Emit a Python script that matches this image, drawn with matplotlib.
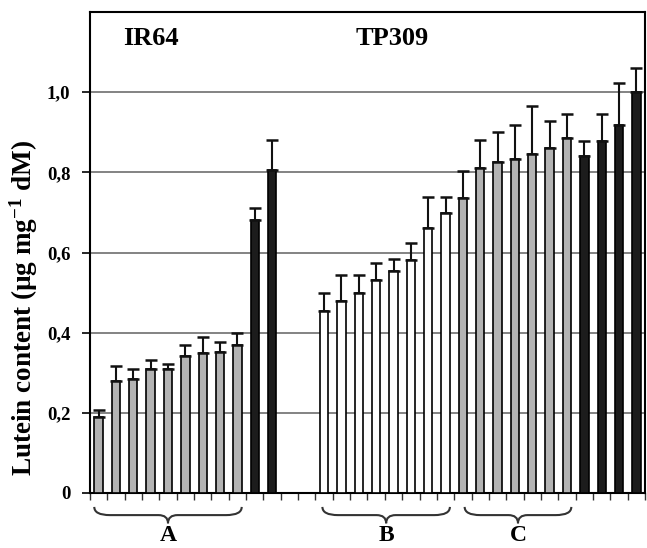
import numpy as np
import matplotlib
matplotlib.use("Agg")
import matplotlib.pyplot as plt
from matplotlib.path import Path
from matplotlib.patches import PathPatch
import matplotlib.transforms as mtransforms

plt.rcParams['font.family'] = ['Liberation Serif', 'DejaVu Serif']
plt.rcParams['font.weight'] = 'bold'
plt.rcParams['mathtext.fontset'] = 'custom'
plt.rcParams['mathtext.rm'] = 'Liberation Serif:bold'
plt.rcParams['mathtext.bf'] = 'Liberation Serif:bold'
plt.rcParams['mathtext.it'] = 'Liberation Serif:bold'

# ---- data ----
cultivars = ["IR64", "TP309"]
group_labels = ["A", "B", "C"]

ir64_gray = [0.190, 0.279, 0.285, 0.309, 0.309, 0.342, 0.349, 0.352, 0.369]
ir64_gray_err = [0.016, 0.039, 0.024, 0.024, 0.014, 0.027, 0.040, 0.024, 0.031]
ir64_black = [0.681, 0.805]
ir64_black_err = [0.030, 0.076]

tp309_white = [0.455, 0.479, 0.498, 0.531, 0.553, 0.581, 0.660, 0.699]
tp309_white_err = [0.044, 0.064, 0.047, 0.044, 0.032, 0.043, 0.079, 0.040]
tp309_gray = [0.735, 0.810, 0.827, 0.834, 0.846, 0.861, 0.886]
tp309_gray_err = [0.068, 0.071, 0.074, 0.083, 0.120, 0.068, 0.059]
tp309_black = [0.842, 0.878, 0.918, 1.001]
tp309_black_err = [0.036, 0.067, 0.106, 0.059]

yticks = [0, 0.2, 0.4, 0.6, 0.8, 1.0]
ytick_labels = ["0", "0,2", "0,4", "0,6", "0,8", "1,0"]

GRAY = "#b3b3b3"
BLACK = "#1c1c1c"
WHITE = "#ffffff"

series = [
    (ir64_gray, ir64_gray_err, GRAY),
    (ir64_black, ir64_black_err, BLACK),
    (tp309_white, tp309_white_err, WHITE),
    (tp309_gray, tp309_gray_err, GRAY),
    (tp309_black, tp309_black_err, BLACK),
]

gap = 2  # empty slots between cultivars
fig = plt.figure(figsize=(6.47, 5.48), dpi=100)
ax = fig.add_axes([0.139, 0.1004, 0.858, 0.8776])

pos = 0
positions_all = []
for i, (vals, errs, col) in enumerate(series):
    if i == 2:
        pos += gap
    x = np.arange(pos, pos + len(vals))
    positions_all.append(x)
    ax.bar(x, vals, width=0.48, color=col, edgecolor="black", linewidth=1.2, zorder=3)
    ax.errorbar(x, vals, yerr=[np.zeros(len(errs)), errs], fmt="none",
                ecolor="#111111", elinewidth=1.5, capsize=4, capthick=1.8, zorder=4)
    pos += len(vals)

n_slots = pos
ax.set_xlim(-0.5, n_slots - 0.5)
ax.set_ylim(0, 1.2)
ax.set_yticks(yticks)
ax.set_yticklabels(ytick_labels, fontsize=13.5, fontweight='bold')
ax.set_xticks(np.arange(-0.5, n_slots, 1.0))
ax.set_xticklabels([])
ax.tick_params(axis='x', direction='out', length=5, width=1.0, color="#333333")
ax.tick_params(axis='y', direction='out', length=6, width=1.2, pad=8)
for s in ax.spines.values():
    s.set_linewidth(1.5)
ax.yaxis.grid(True, color="#7a7a7a", linewidth=1.3, zorder=0)
ax.set_axisbelow(True)

ax.set_ylabel("Lutein content (µg mg$^{-1}$ dM)", fontsize=19.5,
              fontweight='bold')
ax.yaxis.set_label_coords(-0.09, 0.385)

# cultivar titles
ax.text(3.0, 1.135, cultivars[0], fontsize=19, fontweight='bold', ha='center', va='center')
ax.text(16.9, 1.135, cultivars[1], fontsize=19, fontweight='bold', ha='center', va='center')

# braces
trans = mtransforms.blended_transform_factory(ax.transData, ax.transAxes)

def brace(x0, x1, label):
    y0, y1, y2 = -0.029, -0.046, -0.063
    m = (x0 + x1) / 2
    r = 0.9
    t = 0.55
    verts = [(x0, y0), (x0, y1), (x0 + r, y1),
             (m - t, y1), (m, y1), (m, y2),
             (m, y1), (m + t, y1),
             (x1 - r, y1), (x1, y1), (x1, y0)]
    codes = [Path.MOVETO, Path.CURVE3, Path.CURVE3,
             Path.LINETO, Path.CURVE3, Path.CURVE3,
             Path.CURVE3, Path.CURVE3,
             Path.LINETO, Path.CURVE3, Path.CURVE3]
    patch = PathPatch(Path(verts, codes), transform=trans, fill=False,
                      edgecolor="#333333", linewidth=1.5, clip_on=False)
    ax.add_patch(patch)
    ax.text(m, -0.088, label, transform=trans, fontsize=17, fontweight='bold',
            ha='center', va='center', clip_on=False)

g = positions_all
brace(g[0][0] - 0.25, g[0][-1] + 0.25, group_labels[0])
brace(g[2][0] - 0.1, g[2][-1] + 0.25, group_labels[1])
brace(g[3][0] + 0.1, g[3][-1] + 0.25, group_labels[2])

fig.savefig("out.png", dpi=100)
